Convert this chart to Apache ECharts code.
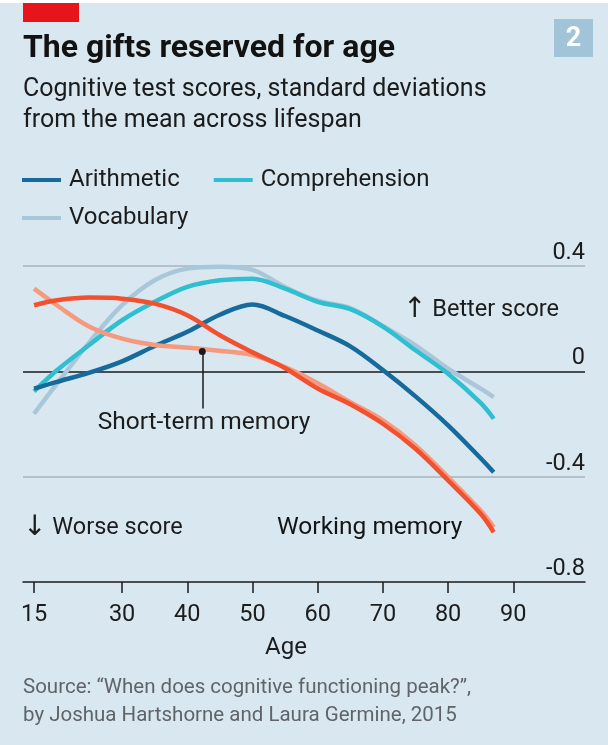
<!DOCTYPE html>
<html><head><meta charset="utf-8">
<script src="https://cdn.jsdelivr.net/npm/echarts@6/dist/echarts.min.js"></script>
<style>html,body{margin:0;padding:0;background:#d9e8f0}#c{width:608px;height:745px}</style>
</head><body><div id="c"></div>
<script>
// ---- data ----
const ages = [16.5, 20, 25, 30, 35, 40, 45, 50, 55, 60, 65, 70, 75, 80, 85, 87];
const arithmetic    = [-0.066, -0.04, -0.005, 0.038, 0.096, 0.15, 0.215, 0.254, 0.21, 0.155, 0.095, 0.005, -0.095, -0.205, -0.33, -0.383];
const comprehension = [-0.076, 0.004, 0.101, 0.194, 0.264, 0.321, 0.346, 0.352, 0.314, 0.264, 0.236, 0.17, 0.08, -0.009, -0.12, -0.18];
const vocabulary    = [-0.161, -0.047, 0.111, 0.251, 0.346, 0.39, 0.397, 0.385, 0.32, 0.268, 0.24, 0.172, 0.099, 0.01, -0.066, -0.098];
const shortTerm     = [0.314, 0.251, 0.169, 0.124, 0.1, 0.09, 0.078, 0.062, 0.016, -0.045, -0.117, -0.186, -0.281, -0.402, -0.529, -0.592];
const working       = [0.251, 0.27, 0.28, 0.276, 0.257, 0.213, 0.137, 0.072, 0.012, -0.065, -0.125, -0.199, -0.294, -0.414, -0.541, -0.611];
const xTickValues = [16.5, 30, 40, 50, 60, 70, 80, 90];
const xTickLabels = ['15', '30', '40', '50', '60', '70', '80', '90'];
const yTickValues = [-0.8, -0.4, 0, 0.4];
const yTickLabels = ['-0.8', '-0.4', '0', '0.4'];
const shortTermPointer = [[42.3, 0.075], [42.3, -0.141]];

const FONT = 'Roboto, "Noto Sans", sans-serif';
const TXT = '#1c1c1c';
const pair = arr => ages.map((a, i) => [a, arr[i]]);

const chart = echarts.init(document.getElementById('c'));
function mkSeries(name, arr, color, extra) {
  return Object.assign({
    name, type: 'line', data: pair(arr), smooth: 0.35, showSymbol: false, clip: false,
    lineStyle: { width: 4.5, color }, itemStyle: { color }, emphasis: { disabled: true }
  }, extra || {});
}
const legendCommon = {
  left: 22, padding: 0, icon: 'rect', itemWidth: 39, itemHeight: 4, itemGap: 34,
  selectedMode: false,
  textStyle: { fontFamily: FONT, fontSize: 24, color: TXT, lineHeight: 26, padding: [0, 0, 0, 3] }
};
const txt = (text, x, y, o) => ({
  type: 'text', x, y, silent: true,
  style: Object.assign({ text, fontFamily: FONT, fontSize: 23.5, fill: TXT, verticalAlign: 'middle', align: 'left' }, o || {})
});
const arrowRich = { a: { fontFamily: '"DejaVu Sans", sans-serif', fontSize: 28, fill: TXT } };

chart.setOption({
  backgroundColor: '#d9e8f0',
  animation: false,
  grid: { left: 23, right: 23, top: 266, bottom: 163 },
  legend: [
    Object.assign({}, legendCommon, { top: 167, data: ['Arithmetic', 'Comprehension'] }),
    Object.assign({}, legendCommon, { top: 205, data: ['Vocabulary'] })
  ],
  xAxis: {
    type: 'value', min: 14.8, max: 101,
    axisLine: { show: true, onZero: false, lineStyle: { color: '#1a1a1a', width: 1.5 } },
    axisTick: { show: true, customValues: xTickValues, length: 11, lineStyle: { color: '#1a1a1a', width: 1.5 } },
    axisLabel: {
      customValues: xTickValues, margin: 21,
      formatter: v => xTickLabels[xTickValues.indexOf(v)],
      fontFamily: FONT, fontSize: 23.5, color: TXT
    },
    splitLine: { show: false }
  },
  yAxis: {
    type: 'value', position: 'right', min: -0.8, max: 0.4, interval: 0.4,
    axisLine: { show: false }, axisTick: { show: false },
    axisLabel: {
      inside: true, verticalAlign: 'bottom', margin: 0, padding: [0, 0, 1, 0],
      formatter: v => yTickLabels[yTickValues.findIndex(t => Math.abs(t - v) < 1e-6)],
      fontFamily: FONT, fontSize: 23.5, color: TXT
    },
    splitLine: { show: true, lineStyle: { color: ['rgba(0,0,0,0)', '#a8b4bd', '#1a1a1a', '#a8b4bd'], width: 1.5 } }
  },
  series: [
    mkSeries('Vocabulary', vocabulary, '#a9c7da'),
    mkSeries('Comprehension', comprehension, '#2fbfd0'),
    mkSeries('Arithmetic', arithmetic, '#176b9c'),
    mkSeries('Short-term memory', shortTerm, '#f59a7e', {
      markLine: {
        silent: true, symbol: 'none', animation: false,
        lineStyle: { color: '#1a1a1a', width: 1.5, type: 'solid' }, label: { show: false },
        data: [[{ coord: shortTermPointer[0] }, { coord: shortTermPointer[1] }]]
      },
      markPoint: {
        silent: true, symbol: 'circle', symbolSize: 7, itemStyle: { color: '#1a1a1a' }, label: { show: false },
        data: [{ coord: shortTermPointer[0] }]
      }
    }),
    mkSeries('Working memory', working, '#f2512f')
  ],
  graphic: [
    { type: 'rect', shape: { x: 0, y: 0, width: 608, height: 3 }, style: { fill: '#ffffff' }, silent: true },
    { type: 'rect', shape: { x: 23, y: 3, width: 56, height: 19 }, style: { fill: '#e8141b' }, silent: true },
    { type: 'rect', shape: { x: 554, y: 19, width: 39, height: 38 }, style: { fill: '#a2c4d8' }, silent: true },
    txt('2', 573.5, 39, { fontSize: 27, fontWeight: 'bold', fill: '#ffffff', align: 'center' }),
    txt('The gifts reserved for age', 23, 49, { fontSize: 32, fontWeight: 'bold', fill: '#121212' }),
    txt('Cognitive test scores, standard deviations', 23, 90, { fontSize: 25 }),
    txt('from the mean across lifespan', 23, 121, { fontSize: 25 }),
    txt('{a|↑} Better score', 403, 310, { rich: arrowRich }),
    txt('Short-term memory', 204, 423, { align: 'center', fontSize: 24.5 }),
    txt('{a|↓} Worse score', 23, 528, { rich: arrowRich }),
    txt('Working memory', 277, 528, { fontSize: 24.5, fill: '#141414' }),
    txt('Age', 286, 648, { align: 'center', fontSize: 24 }),
    txt('Source: “When does cognitive functioning peak?”,', 23, 688, { fontSize: 20.5, fill: '#606468' }),
    txt('by Joshua Hartshorne and Laura Germine, 2015', 23, 716, { fontSize: 20.5, fill: '#606468' })
  ]
});
</script></body></html>
